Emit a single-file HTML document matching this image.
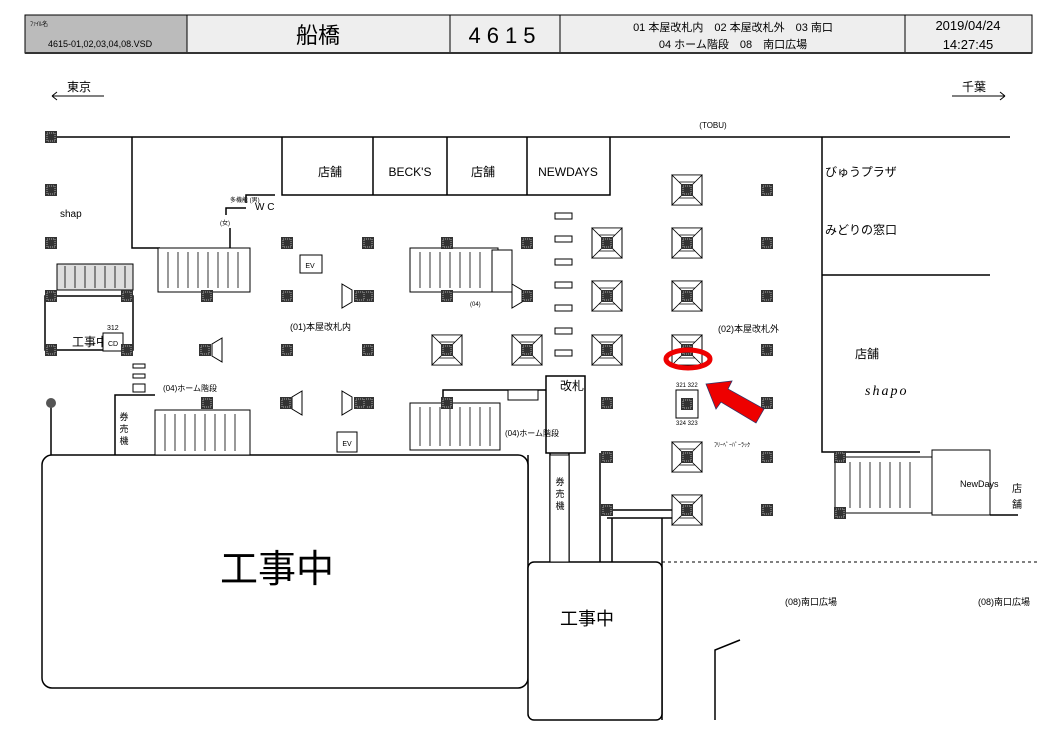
<!DOCTYPE html>
<html><head><meta charset="utf-8"><style>
html,body{margin:0;padding:0;background:#fff;}
svg{display:block;font-family:"Liberation Sans","Noto Sans CJK JP",sans-serif;}
</style></head><body>
<svg width="1056" height="747" viewBox="0 0 1056 747" xmlns="http://www.w3.org/2000/svg">
<defs>
<g id="p"><rect x="-6" y="-6" width="12" height="12" fill="#333"/><rect x="-4" y="-4" width="8" height="8" fill="none" stroke="#aaa" stroke-width="1" stroke-dasharray="1 1"/></g>
<g id="k"><rect x="-15" y="-15" width="30" height="30" fill="#fff" stroke="#000"/><path d="M-15 -15L15 15M15 -15L-15 15M-15 -15H15L8 -8H-8ZM-15 15H15L8 8H-8Z" fill="#fff" stroke="#000" stroke-width="0.8"/><use href="#p"/></g>
</defs>
<!-- header -->
<rect x="25" y="15" width="162" height="38" fill="#bbb" stroke="#000"/>
<rect x="187" y="15" width="845" height="38" fill="#eee" stroke="#000"/>
<path d="M450 15V53M560 15V53M905 15V53" stroke="#000"/>
<rect x="25" y="52" width="1007" height="2" fill="#333"/>
<text x="30" y="26" font-size="6">ﾌｧｲﾙ名</text>
<text x="48" y="47" font-size="9">4615-01,02,03,04,08.VSD</text>
<text x="318" y="43" font-size="22" text-anchor="middle">船橋</text>
<text x="505" y="43" font-size="22" text-anchor="middle" letter-spacing="6">4615</text>
<text x="733" y="31" font-size="11" text-anchor="middle">01 本屋改札内　02 本屋改札外　03 南口</text>
<text x="733" y="48" font-size="11" text-anchor="middle">04 ホーム階段　08　南口広場</text>
<text x="968" y="30" font-size="13" text-anchor="middle">2019/04/24</text>
<text x="968" y="49" font-size="13" text-anchor="middle">14:27:45</text>
<!-- direction arrows -->
<text x="67" y="91" font-size="12">東京</text>
<path d="M52 96H104M52 96l5 -4M52 96l5 4" stroke="#000" fill="none"/>
<text x="962" y="91" font-size="12">千葉</text>
<path d="M952 96H1005M1005 96l-5 -4M1005 96l-5 4" stroke="#000" fill="none"/>
<!-- walls -->
<g stroke="#000" stroke-width="1.5" fill="none">
<path d="M51 137H1010"/>
<path d="M132 137V248H160"/>
<path d="M282 137V195H610V137M373 137V195M447 137V195M527 137V195"/>
<path d="M275 195H246V203M246 208H226V215"/>
<path d="M230 228V248"/>
<path d="M822 137V452H920M822 275H990"/>
<path d="M45 296H133V350H45Z"/>
<path d="M51 403V455"/>
<path d="M115 455V395H155"/>
<path d="M546 453V376H585V453ZM546 390H443V400"/>
<path d="M528 455V560M550 453V562H569V453"/>
<path d="M600 453V562"/>
<path d="M607 510H672M607 518H672M612 518V562"/>
<path d="M662 518V720"/>
<path d="M990 515H1018"/>
<path d="M715 720V650L740 640"/>
</g>
<rect x="42" y="455" width="486" height="233" rx="10" fill="#fff" stroke="#000" stroke-width="1.5"/>
<rect x="528" y="562" width="134" height="158" rx="6" fill="#fff" stroke="#000" stroke-width="1.5"/>
<path d="M662 562H1040" stroke="#000" stroke-dasharray="3 3"/>
<!-- store labels -->
<g font-size="12" text-anchor="middle">
<text x="330" y="176">店舗</text><text x="410" y="176">BECK'S</text><text x="483" y="176">店舗</text><text x="568" y="176">NEWDAYS</text>
</g>
<text x="825" y="176" font-size="12">びゅうプラザ</text>
<text x="825" y="234" font-size="12">みどりの窓口</text>
<text x="855" y="358" font-size="12">店舗</text>
<text x="865" y="395" font-size="14" font-style="italic" letter-spacing="2" font-family="Liberation Serif,serif">shapo</text>
<text x="713" y="128" font-size="8" text-anchor="middle">(TOBU)</text>
<text x="60" y="217" font-size="10">shap</text>
<text x="72" y="346" font-size="12">工事中</text>
<text x="220" y="582" font-size="38">工事中</text>
<text x="560" y="625" font-size="18">工事中</text>
<text x="290" y="330" font-size="9">(01)本屋改札内</text>
<text x="718" y="332" font-size="9">(02)本屋改札外</text>
<text x="163" y="391" font-size="8">(04)ホーム階段</text>
<text x="505" y="436" font-size="8">(04)ホーム階段</text>
<text x="560" y="390" font-size="12">改札</text>
<text x="785" y="605" font-size="9">(08)南口広場</text>
<text x="978" y="605" font-size="9">(08)南口広場</text>
<text x="714" y="447" font-size="6">ﾌﾘｰﾍﾟｰﾊﾟｰﾗｯｸ</text>
<text x="255" y="210" font-size="10">W C</text>
<text x="230" y="202" font-size="6">多機能 (男)</text>
<text x="220" y="225" font-size="6">(女)</text>
<!-- stairs -->
<g stroke="#000" fill="#fff" stroke-width="1">
<rect x="158" y="248" width="92" height="44"/>
<rect x="410" y="248" width="88" height="44"/>
<rect x="410" y="403" width="90" height="47"/>
<rect x="155" y="410" width="95" height="45"/>
<rect x="57" y="264" width="76" height="26" fill="#ddd"/>
<rect x="835" y="457" width="97" height="56"/>
<rect x="932" y="450" width="58" height="65"/>
<rect x="492" y="250" width="20" height="42"/>
<rect x="300" y="255" width="22" height="18"/>
<rect x="337" y="432" width="20" height="20"/>
<rect x="103" y="333" width="20" height="18"/>
<rect x="508" y="390" width="30" height="10"/>
</g>
<g stroke="#000" stroke-width="0.8">
<path d="M168 252V288M178 252V288M188 252V288M198 252V288M208 252V288M218 252V288M228 252V288M238 252V288"/>
<path d="M420 252V288M430 252V288M440 252V288M450 252V288M460 252V288M470 252V288M480 252V288"/>
<path d="M420 407V446M430 407V446M440 407V446M450 407V446M460 407V446M470 407V446M480 407V446M490 407V446"/>
<path d="M165 414V451M175 414V451M185 414V451M195 414V451M205 414V451M215 414V451M225 414V451M235 414V451"/>
<path d="M65 266V288M75 266V288M85 266V288M95 266V288M105 266V288M115 266V288M125 266V288"/>
<path d="M850 462V508M860 462V508M870 462V508M880 462V508M890 462V508M900 462V508M910 462V508"/>
</g>
<text x="960" y="487" font-size="9">NewDays</text>
<text x="1012" y="492" font-size="10">店</text><text x="1012" y="508" font-size="10">舗</text>
<text x="310" y="268" font-size="7" text-anchor="middle">EV</text>
<text x="347" y="446" font-size="7" text-anchor="middle">EV</text>
<text x="113" y="346" font-size="7" text-anchor="middle">CD</text>
<text x="107" y="330" font-size="7">312</text>
<text x="470" y="306" font-size="6">(04)</text>
<!-- ticket machine -->
<rect x="550" y="455" width="19" height="107" fill="#fff" stroke="#000"/>
<text x="560" y="485" font-size="9" text-anchor="middle">券</text><text x="560" y="497" font-size="9" text-anchor="middle">売</text><text x="560" y="509" font-size="9" text-anchor="middle">機</text>
<text x="124" y="420" font-size="9" text-anchor="middle">券</text><text x="124" y="432" font-size="9" text-anchor="middle">売</text><text x="124" y="444" font-size="9" text-anchor="middle">機</text>
<!-- gates -->
<g fill="#fff" stroke="#000">
<rect x="555" y="213" width="17" height="6"/><rect x="555" y="236" width="17" height="6"/><rect x="555" y="259" width="17" height="6"/><rect x="555" y="282" width="17" height="6"/><rect x="555" y="305" width="17" height="6"/><rect x="555" y="328" width="17" height="6"/><rect x="555" y="350" width="17" height="6"/>
<rect x="133" y="364" width="12" height="4"/><rect x="133" y="374" width="12" height="4"/><rect x="133" y="384" width="12" height="8"/>
</g>
<!-- pillars -->
<g>
<use href="#p" x="51" y="137"/><use href="#p" x="51" y="190"/><use href="#p" x="51" y="243"/><use href="#p" x="51" y="296"/><use href="#p" x="51" y="350"/>
<use href="#p" x="127" y="296"/><use href="#p" x="127" y="350"/><use href="#p" x="207" y="296"/><use href="#p" x="207" y="403"/>
<use href="#p" x="287" y="243"/><use href="#p" x="287" y="296"/><use href="#p" x="287" y="350"/><use href="#p" x="287" y="403"/>
<use href="#p" x="368" y="243"/><use href="#p" x="368" y="296"/><use href="#p" x="368" y="350"/><use href="#p" x="368" y="403"/>
<use href="#p" x="447" y="243"/><use href="#p" x="447" y="296"/><use href="#p" x="447" y="403"/>
<use href="#p" x="527" y="243"/><use href="#p" x="527" y="296"/>
<use href="#p" x="607" y="403"/><use href="#p" x="607" y="457"/><use href="#p" x="607" y="510"/>
<use href="#p" x="767" y="190"/><use href="#p" x="767" y="243"/><use href="#p" x="767" y="296"/><use href="#p" x="767" y="350"/><use href="#p" x="767" y="403"/><use href="#p" x="767" y="457"/><use href="#p" x="767" y="510"/>
<use href="#p" x="840" y="457"/><use href="#p" x="840" y="513"/>
</g>
<circle cx="51" cy="403" r="5" fill="#555"/>
<!-- kiosks -->
<use href="#k" x="687" y="190"/><use href="#k" x="687" y="243"/><use href="#k" x="687" y="296"/><use href="#k" x="687" y="350"/>
<use href="#k" x="687" y="457"/><use href="#k" x="687" y="510"/>
<use href="#k" x="607" y="243"/><use href="#k" x="607" y="296"/><use href="#k" x="607" y="350"/>
<use href="#k" x="447" y="350"/><use href="#k" x="527" y="350"/>
<!-- trapezoids -->
<g fill="#fff" stroke="#000">
<polygon points="342,284 352,290 352,302 342,308"/><polygon points="222,338 212,344 212,356 222,362"/>
<polygon points="302,391 292,397 292,409 302,415"/><polygon points="342,391 352,397 352,409 342,415"/>
<polygon points="512,284 522,290 522,302 512,308"/>
</g>
<use href="#p" x="360" y="296"/><use href="#p" x="205" y="350"/><use href="#p" x="286" y="403"/><use href="#p" x="360" y="403"/>
<!-- small kiosk near arrow -->
<rect x="676" y="390" width="22" height="28" fill="#fff" stroke="#000"/><use href="#p" x="687" y="404"/>
<text x="676" y="387" font-size="6">321 322</text><text x="676" y="425" font-size="6">324 323</text>
<!-- red marks -->
<ellipse cx="688" cy="359" rx="22" ry="9" fill="none" stroke="#e00" stroke-width="5"/>
<polygon points="706,384 732,381 728,389 764,409 756,423 721,402 716,409" fill="#e00" stroke="#336" stroke-width="0.8"/>
</svg>
</body></html>
